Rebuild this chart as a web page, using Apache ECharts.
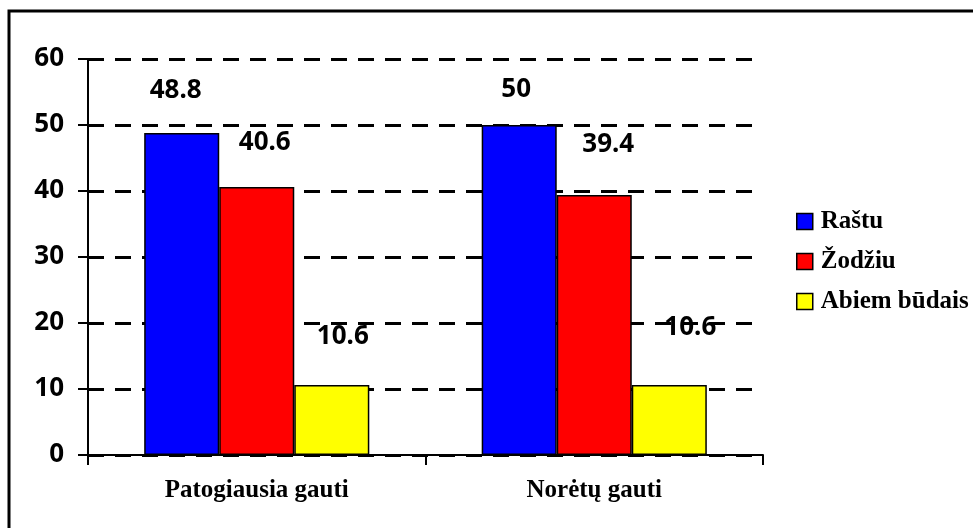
<!DOCTYPE html>
<html>
<head>
<meta charset="utf-8">
<script src="https://cdn.jsdelivr.net/npm/echarts@6/dist/echarts.min.js"></script>
<style>
  html, body { margin: 0; padding: 0; background: #fff; }
  #chart { width: 973px; height: 528px; }
</style>
</head>
<body>
<div id="chart"></div>
<script>
const categories = ['Patogiausia gauti', 'Norėtų gauti'];
const seriesNames = ['Raštu', 'Žodžiu', 'Abiem būdais'];
const rastu = [48.8, 50];
const zodziu = [40.6, 39.4];
const abiem = [10.6, 10.6];
const yTicks = { min: 0, max: 60, interval: 10 };

const colors = ['#0000ff', '#ff0000', '#ffff00'];
// label nudges (layout only), per series then per category
const labelShift = [
  [[-6, -29], [-3, -22]],
  [[8, -31], [14, -37]],
  [[11, -35], [21, -44]]
];
const numFont = { fontFamily: 'Noto Sans', fontWeight: 'bold', fontSize: 26, color: '#000' };
const serifFont = { fontFamily: 'Liberation Serif', fontWeight: 'bold', color: '#000' };

const chart = echarts.init(document.getElementById('chart'));

function makeSeries(name, values, idx) {
  return {
    name: name,
    type: 'bar',
    barGap: '0%',
    barCategoryGap: '33.3%',
    itemStyle: { color: colors[idx], borderColor: '#000', borderWidth: 1.5 },
    label: Object.assign({ show: true, position: 'top', distance: 0 }, numFont),
    data: values.map((v, i) => ({
      value: v,
      label: { offset: labelShift[idx][i] }
    })),
    z: 3
  };
}

chart.setOption({
  animation: false,
  backgroundColor: '#fff',
  graphic: [{
    type: 'rect',
    shape: { x: 9, y: 11, width: 990, height: 540 },
    style: { fill: 'none', stroke: '#000', lineWidth: 3 },
    silent: true
  }],
  grid: { left: 88, top: 59, right: 210, bottom: 73 },
  legend: {
    orient: 'vertical',
    left: 791,
    top: 204,
    itemWidth: 16,
    itemHeight: 16,
    itemGap: 15,
    icon: 'rect',
    itemStyle: { borderColor: '#000', borderWidth: 1.5 },
    textStyle: Object.assign({ fontSize: 25, lineHeight: 25, padding: [0, 0, 0, 3] }, serifFont),
    data: seriesNames
  },
  xAxis: {
    type: 'category',
    data: categories,
    axisLine: { lineStyle: { color: '#000', width: 2 } },
    axisTick: { show: true, length: 10, lineStyle: { color: '#000', width: 2 } },
    axisLabel: Object.assign({ fontSize: 25, margin: 23 }, serifFont)
  },
  yAxis: {
    type: 'value',
    min: yTicks.min,
    max: yTicks.max,
    interval: yTicks.interval,
    axisLine: { show: true, lineStyle: { color: '#000', width: 2 } },
    axisTick: { show: true, length: 10, lineStyle: { color: '#000', width: 2 } },
    axisLabel: Object.assign({ margin: 24 }, numFont),
    splitLine: { show: true, lineStyle: { color: '#000', width: 3, type: [16, 11] } }
  },
  series: [
    makeSeries(seriesNames[0], rastu, 0),
    makeSeries(seriesNames[1], zodziu, 1),
    makeSeries(seriesNames[2], abiem, 2)
  ]
});
</script>
</body>
</html>
